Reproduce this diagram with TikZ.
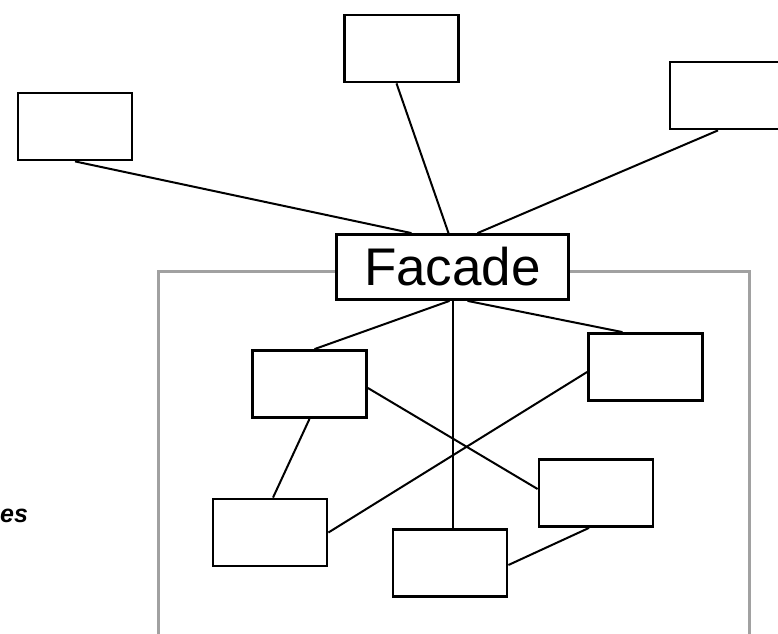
\documentclass[tikz,border=0pt]{standalone}
\usepackage{fontspec}
\setmainfont{Liberation Sans}
\tikzset{
	cls/.style={draw, line width=2.8pt, fill=white, minimum width=114pt, minimum height=67pt, inner sep=0pt},
	facadebox/.style={cls, minimum width=232pt, minimum height=65pt, font=\fontsize{53}{60}\selectfont},
	link/.style={line width=2pt},
	subframe/.style={line width=3pt, color=black!37}
}

\begin{document}
\begin{tikzpicture}[x=1pt, y=-1pt]
		%%%%% START %%%%%
		\useasboundingbox (0, 0) rectangle (778, 633);
		
		\draw[subframe] (158, 650) -- (158, 271) -- (749, 271) -- (749, 650);
		
		\node[anchor=west, inner sep=0pt, font=\fontsize{25}{30}\selectfont\bfseries\itshape] (sublabel) at (0, 516) {es};
		
		\node[cls] (clientl) at (75, 126.5) {};
		\node[cls] (clientm) at (401.5, 48.5) {};
		\node[cls] (clientr) at (727, 95.5) {};
		
		\node[facadebox] (facade) at (452.5, 267) {Facade};
		
		\node[cls] (suba) at (309.5, 384) {};
		\node[cls] (subb) at (645.5, 367) {};
		\node[cls] (subc) at (596, 493) {};
		\node[cls] (subd) at (270, 532.5) {};
		\node[cls] (sube) at (450, 563) {};
		
		\draw[link] (clientl.south) -- ([xshift=-41pt]facade.north);
		\draw[link] ([xshift=-5pt]clientm.south) -- ([xshift=-4pt]facade.north);
		\draw[link] ([xshift=-9pt]clientr.south) -- ([xshift=25pt]facade.north);
		
		\draw[link] (facade.south) -- (facade.south |- sube.north);
		\draw[link] ([xshift=-3pt]facade.south) -- ([xshift=5pt]suba.north);
		\draw[link] ([xshift=15pt]facade.south) -- ([xshift=-23pt]subb.north);
		\draw[link] ([yshift=-4pt]suba.east) -- ([yshift=4pt]subc.west);
		\draw[link] ([yshift=-5pt]subb.west) -- (subd.east);
		\draw[link] (suba.south) -- ([xshift=3pt]subd.north);
		\draw[link] ([xshift=-7pt]subc.south) -- ([yshift=-2pt]sube.east);
		
		%%%%% END %%%%%
\end{tikzpicture}
\end{document}
